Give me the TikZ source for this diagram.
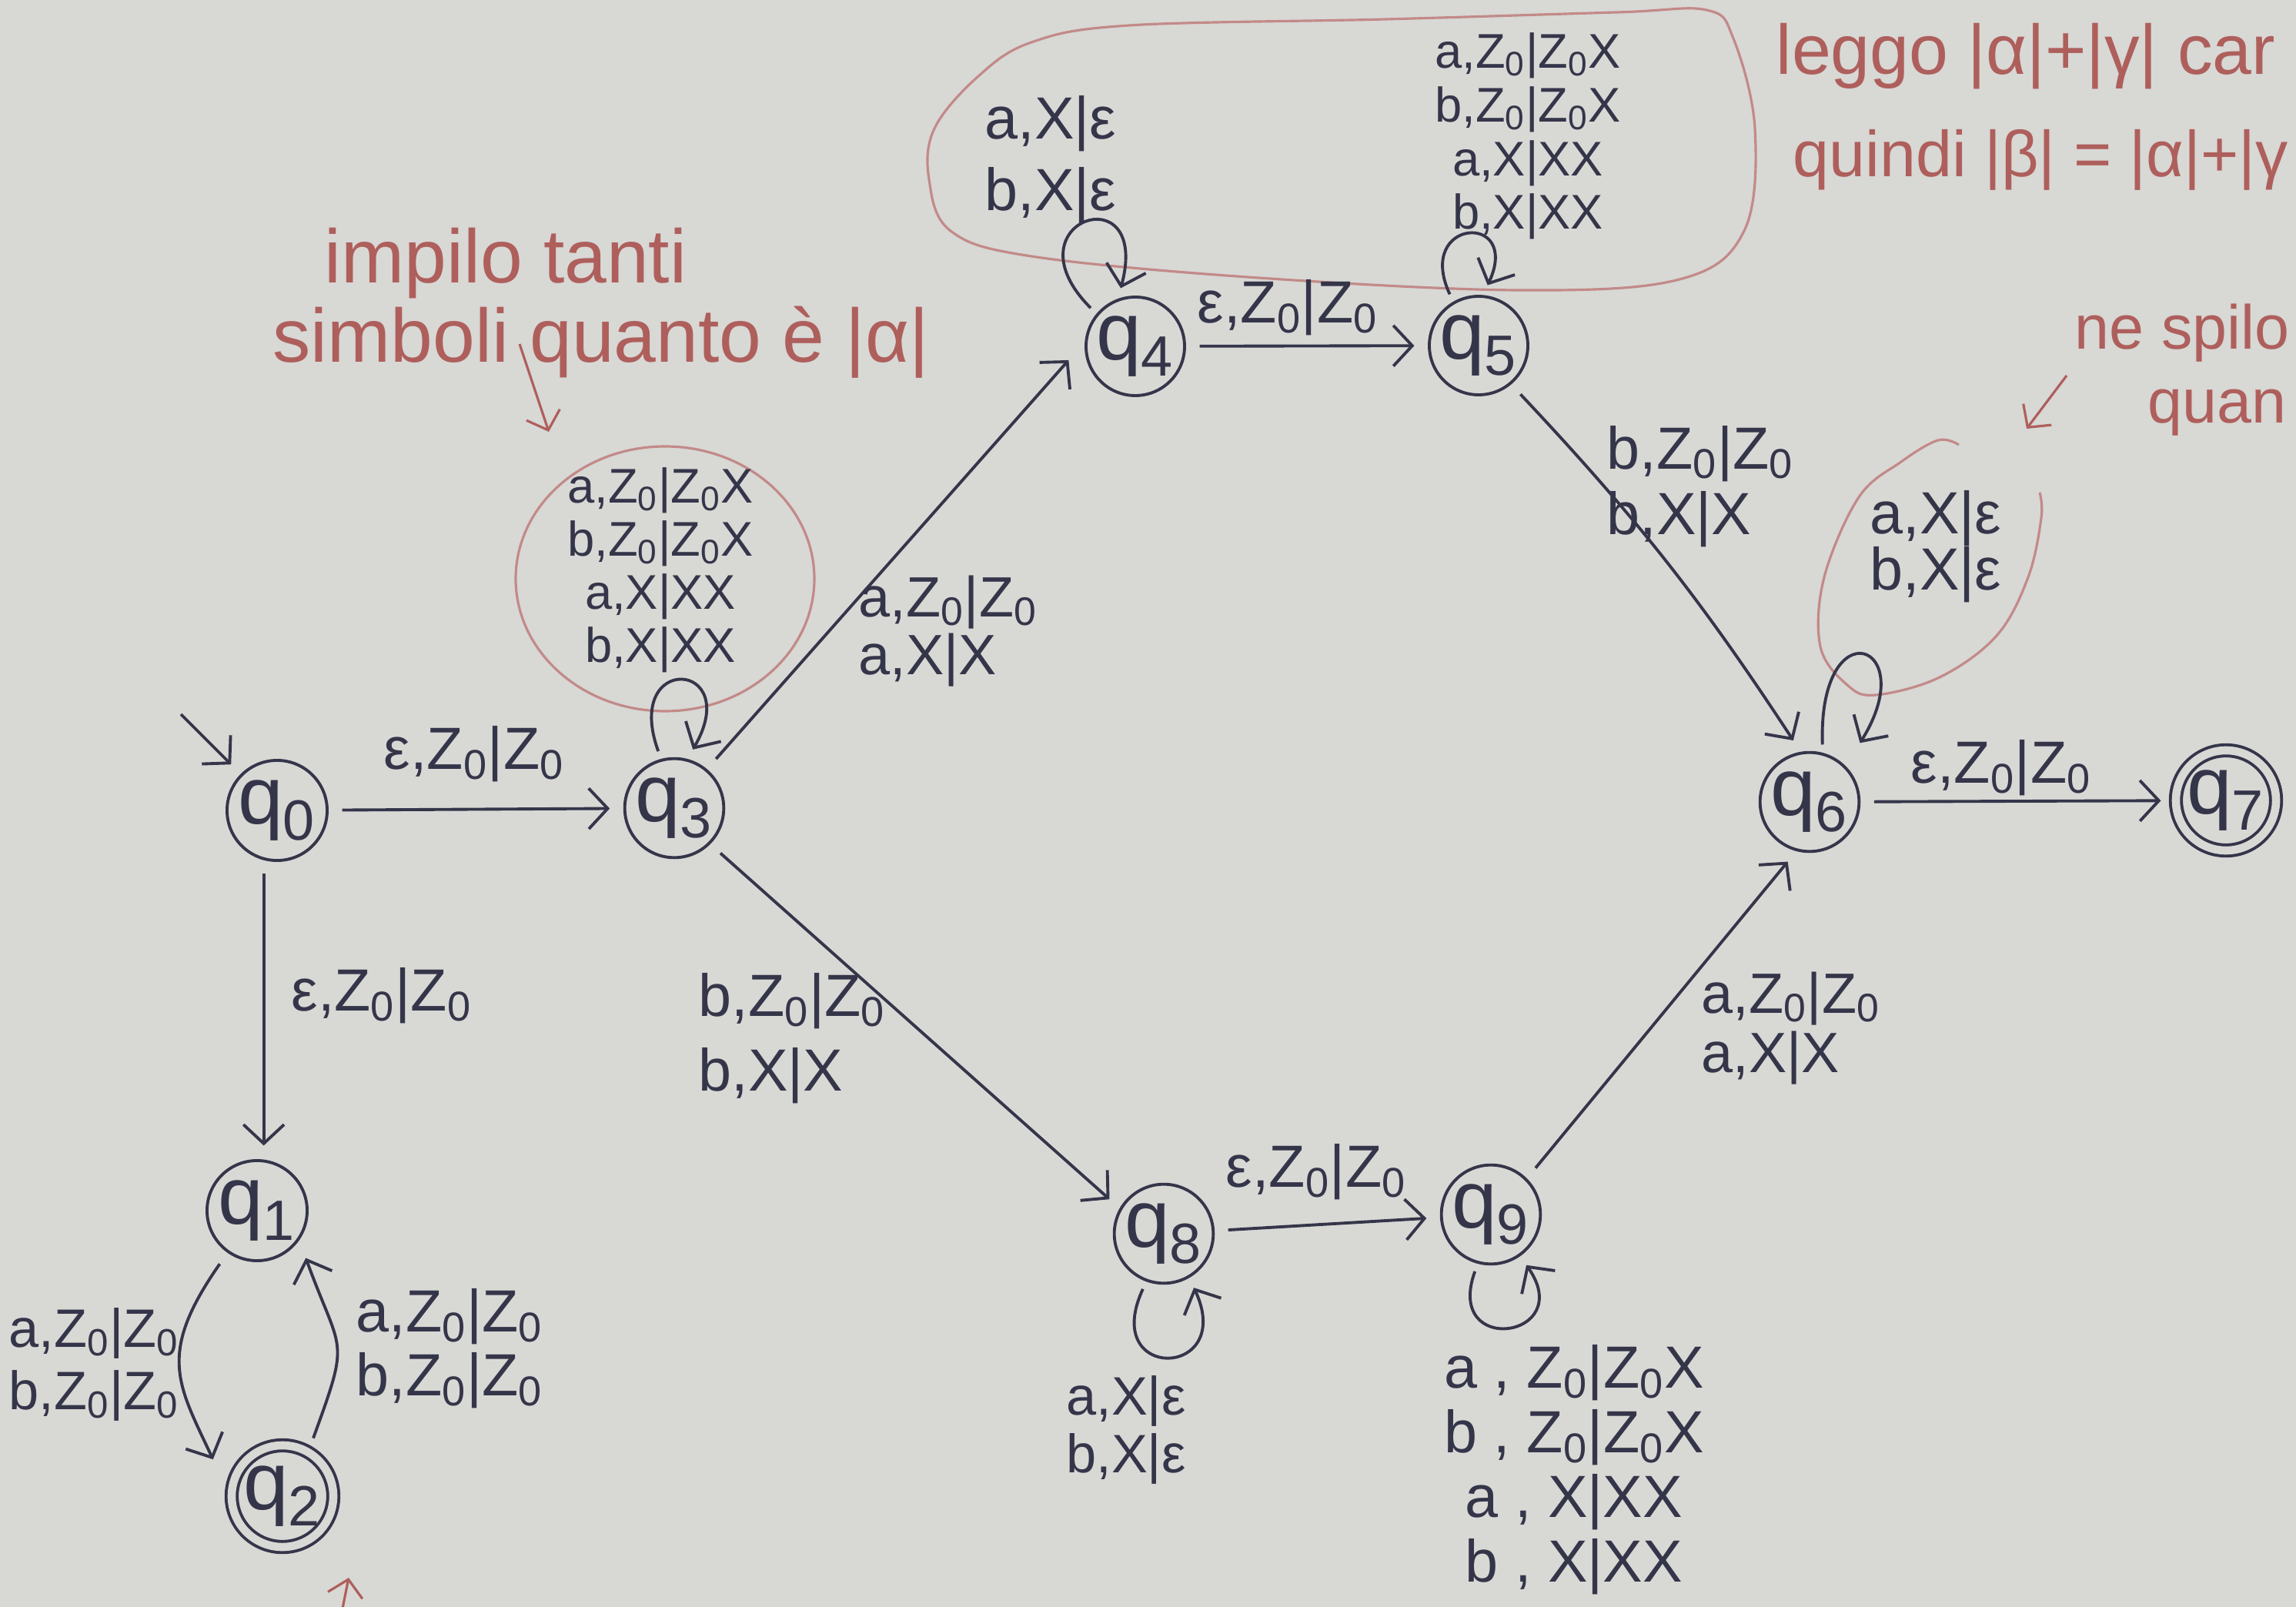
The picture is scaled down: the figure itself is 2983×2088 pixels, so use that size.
\documentclass[tikz,border=0pt]{standalone}
\usepackage{fontspec}
\setmainfont{Liberation Sans}
\usetikzlibrary{arrows.meta}
\definecolor{paper}{HTML}{D8D8D5}
\definecolor{ink}{HTML}{35354A}
\definecolor{redink}{HTML}{AE5F5C}
\definecolor{redline}{HTML}{C28A88}
\newcommand{\Zo}{Z\textsubscript{0}}
\begin{document}
\lineskiplimit=-100pt
\begin{tikzpicture}[x=0.01cm,y=0.01cm,
  st/.style={circle,draw=ink,line width=1.1pt,inner sep=0pt,minimum size=#1,font=\fontsize{30}{30}\selectfont,text=ink},
  st/.default=1.16cm,
  acc/.style={st=#1,double=paper,double distance=3pt},
  acc/.default=1.3cm,
  tr/.style={draw=ink,line width=1.1pt,-{Straight Barb[length=7pt,width=15pt]},shorten >=5pt,shorten <=5pt},
  lp/.style={tr,shorten <=3pt,shorten >=4pt},
  lb/.style={font=\fontsize{22}{#1}\selectfont,text=ink,inner sep=0pt,align=center},
  lb/.default=24pt,
  lbs/.style={font=\fontsize{18}{#1}\selectfont,text=ink,inner sep=0pt,align=center},
  note/.style={font=\fontsize{28}{30}\selectfont,text=redink,inner sep=0pt,anchor=base west},
  redarr/.style={draw=redink,line width=0.9pt,-{Straight Barb[length=6pt,width=13pt]}},
  blob/.style={draw=redline,line width=0.9pt}
]
\useasboundingbox (0,-2088) rectangle (2983,0);
\fill[paper] (0,-2088) rectangle (2983,0);
\clip (0,-2088) rectangle (2983,0);

% red annotation shapes
\draw[blob] plot[smooth cycle, tension=0.6] coordinates {(1207,-233) (1214,-167) (1270,-100) (1340,-55) (1467,-33) (1800,-25) (2100,-16) (2217,-13) (2252,-50) (2280,-167) (2266,-300) (2182,-363) (1972,-377) (1621,-360) (1340,-333) (1235,-300)};
\draw[blob] (864,-752) ellipse [x radius=194, y radius=172];
\draw[blob] plot[smooth, tension=0.6] coordinates {(2545,-578) (2518,-572) (2470,-600) (2415,-646) (2370,-750) (2365,-840) (2400,-890) (2437,-903) (2520,-880) (2594,-826) (2635,-750) (2652,-673) (2650,-640)};

% red notes
\node[note] (n1) at (421,-367) {impilo tanti};
\node[note] (n2) at (354,-470) {simboli quanto è |α|};
\node[note,font=\fontsize{26}{28}\selectfont] (n3) at (2307,-97) {leggo |α|+|γ| car};
\node[note,font=\fontsize{24}{26}\selectfont] (n4) at (2329,-230) {quindi |β| = |α|+|γ};
\node[note,font=\fontsize{23}{26}\selectfont] (n5) at (2695,-453) {ne spilo};
\node[note,font=\fontsize{23}{26}\selectfont] (n6) at (2790,-550) {quan};
\coordinate (pa1) at (675,-447); \coordinate (pa2) at (713,-561);
\coordinate (pb1) at (2685,-488); \coordinate (pb2) at (2633,-557);
\coordinate (pc1) at (443,-2100); \coordinate (pc2) at (453,-2050);
\draw[redarr] (pa1) -- (pa2);
\draw[redarr] (pb1) -- (pb2);
\draw[redarr] (pc1) -- (pc2);

% states
\node[st=1.3cm] (q0) at (360,-1053) {q\textsubscript{0}};
\node[st=1.3cm] (q1) at (334,-1573) {q\textsubscript{1}};
\node[acc=1.32cm] (q2) at (367,-1944) {q\textsubscript{2}};
\node[st] (q3) at (876,-1050) {q\textsubscript{3}};
\node[st] (q4) at (1475,-450) {q\textsubscript{4}};
\node[st=1.2cm] (q5) at (1921,-449) {q\textsubscript{5}};
\node[st] (q6) at (2351,-1042) {q\textsubscript{6}};
\node[acc=1.3cm] (q7) at (2892,-1040) {q\textsubscript{7}};
\node[st=1.14cm] (q8) at (1512,-1603) {q\textsubscript{8}};
\node[st=1.2cm] (q9) at (1937,-1578) {q\textsubscript{9}};

% transitions
\coordinate (init) at (235,-928);
\draw[tr,shorten <=0pt] (init) -- (q0.135);
\draw[tr] (q0) -- (q3);
\draw[tr] (q0.255) -- (q0.255 |- q1.north);
\draw[tr,shorten >=15pt] (q1.235) to[out=235,in=115,looseness=1.3] (q2.180);
\draw[tr,shorten >=7pt] (q2.60) to[out=70,in=-70,looseness=1.5] (q1.-35);
\draw[tr,shorten >=9pt] (q3.50) -- (q4.175);
\draw[tr] (q3.-45) -- (q8.150);
\draw[tr] (q4) -- (q5);
\draw[tr] (q5.-50) to[bend left=5] (q6.100);
\draw[tr] (q9.45) -- (q6.255);
\draw[tr] (q8) -- (q9);
\draw[tr] (q6) -- (q7);

% loops
\draw[lp] (q3.105) to[out=110,in=60,min distance=1.48cm] (q3.75);
\draw[lp] (q4.140) to[out=135,in=75,min distance=1.7cm] (q4.110);
\draw[lp] (q5.120) to[out=115,in=65,min distance=1.2cm] (q5.85);
\draw[lp,shorten >=10pt] (q6.75) to[out=92,in=58,min distance=1.9cm] (q6.45);
\draw[lp] (q8.250) to[out=245,in=-65,min distance=1.45cm] (q8.300);
\draw[lp] (q9.255) to[out=250,in=-55,min distance=1.3cm] (q9.305);

% labels
\node[lb] (l03) at (616,-980) {ε,\Zo|\Zo};
\node[lb,anchor=west] (l01) at (378,-1294) {ε,\Zo|\Zo};
\node[lb=23pt,font=\fontsize{20}{23}\selectfont] (l12) at (122,-1773) {a,\Zo|\Zo\\b,\Zo|\Zo};
\node[lb=23.6pt] (l21) at (584,-1752) {a,\Zo|\Zo\\b,\Zo|\Zo};
\node[lbs=19.6pt] (l33) at (858,-741) {a,\Zo|\Zo X\\b,\Zo|\Zo X\\a,X|XX\\b,X|XX};
\node[lb,font=\fontsize{21}{21.5}\selectfont,anchor=west,align=left] (l34) at (1115,-820) {a,\Zo|\Zo\\a,X|X};
\node[lb=27.6pt,anchor=west,align=left] (l38) at (907,-1349) {b,\Zo|\Zo\\b,X|X};
\node[lb=26.5pt] (l44) at (1365,-207) {a,X|ε\\b,X|ε};
\node[lb] (l45) at (1673,-400) {ε,\Zo|\Zo};
\node[lbs=19.8pt] (l55) at (1985,-177) {a,\Zo|\Zo X\\b,\Zo|\Zo X\\a,X|XX\\b,X|XX};
\node[lb=24.2pt,anchor=west,align=left] (l56) at (2087,-632) {b,\Zo|\Zo\\b,X|X};
\node[lb=20.8pt] (l66) at (2515,-710) {a,X|ε\\b,X|ε};
\node[lb] (l67) at (2600,-998) {ε,\Zo|\Zo};
\node[lb,font=\fontsize{21}{22}\selectfont,anchor=west,align=left] (l96) at (2210,-1336) {a,\Zo|\Zo\\a,X|X};
\node[lb] (l89) at (1710,-1523) {ε,\Zo|\Zo};
\node[lb,font=\fontsize{20}{21.2}\selectfont] (l88) at (1463,-1858) {a,X|ε\\b,X|ε};
\node[lb=23.9pt] (l99) at (2045,-1910) {a , \Zo|\Zo X\\b , \Zo|\Zo X\\a , X|XX\\b , X|XX};
\end{tikzpicture}
\end{document}
